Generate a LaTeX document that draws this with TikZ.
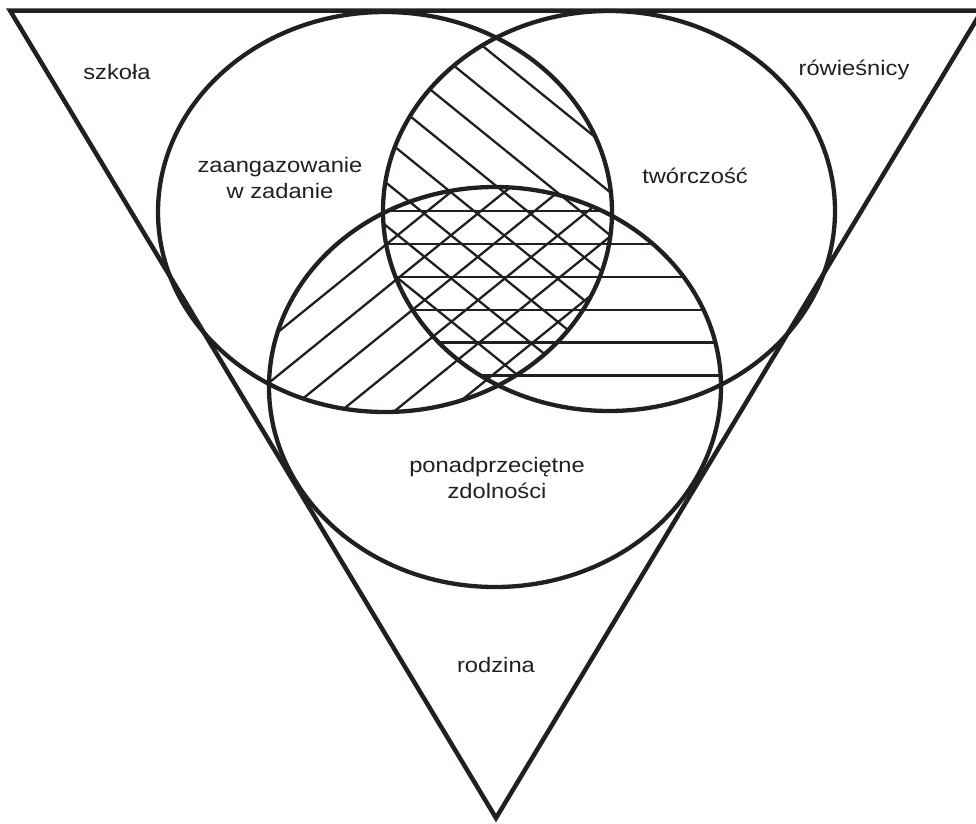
\documentclass[tikz,border=0pt]{standalone}
\usepackage{fontspec}
\setmainfont{Liberation Sans}[FakeStretch=1.13]
\definecolor{ink}{HTML}{231F20}
\begin{document}
\begin{tikzpicture}[x=1pt,y=-1pt,
  outline/.style={draw=ink,line width=4.3pt},
  hatch/.style={draw=ink,line width=2.3pt},
  lbl/.style={text=ink,font=\fontsize{21}{25.5}\selectfont,align=center,inner sep=0pt}]
\useasboundingbox (0,0) rectangle (976,823);
% hatching: left & right (\ lines)
\begin{scope}
  \clip (385,212) ellipse [x radius=227pt, y radius=200pt];
  \clip (609,211) ellipse [x radius=226pt, y radius=200pt];
  \foreach \k in {-1,...,9}{
    \pgfmathsetmacro{\c}{-268+33.4*\k}
    \draw[hatch] ({\c*(-0.6293)-1400*0.7771},{\c*0.7771-1400*0.6293}) -- ({\c*(-0.6293)+1400*0.7771},{\c*0.7771+1400*0.6293});
  }
\end{scope}
% hatching: left & bottom (/ lines)
\begin{scope}
  \clip (385,212) ellipse [x radius=227pt, y radius=200pt];
  \clip (495,387) ellipse [x radius=226pt, y radius=200pt];
  \foreach \k in {-1,...,6}{
    \pgfmathsetmacro{\c}{433+33.7*\k}
    \draw[hatch] ({\c*0.6293-1400*0.7771},{\c*0.7771+1400*0.6293}) -- ({\c*0.6293+1400*0.7771},{\c*0.7771-1400*0.6293});
  }
\end{scope}
% hatching: right & bottom (horizontal lines)
\begin{scope}
  \clip (609,211) ellipse [x radius=226pt, y radius=200pt];
  \clip (495,387) ellipse [x radius=226pt, y radius=200pt];
  \foreach \k in {0,...,5}{
    \pgfmathsetmacro{\yy}{211+32.9*\k}
    \draw[hatch] (300,\yy) -- (800,\yy);
  }
\end{scope}
% circles
\draw[outline] (385,212) ellipse [x radius=227pt, y radius=200pt];
\draw[outline] (609,211) ellipse [x radius=226pt, y radius=200pt];
\draw[outline] (495,387) ellipse [x radius=226pt, y radius=200pt];
% triangle
\coordinate (tl) at (10,10.5);
\coordinate (tr) at (982,10.5);
\coordinate (ap) at (496,818);
\draw[ink,line width=4.5pt,line join=miter] (tl) -- (tr) -- (ap) -- cycle;
% labels
\node[lbl] (szkola) at (117,72) {szkoła};
\node[lbl] (rowiesnicy) at (854,70) {rówieśnicy};
\node[lbl] (zaang) at (280,178) {zaangazowanie\\w zadanie};
\node[lbl] (tworczosc) at (695,176) {twórczość};
\node[lbl] (zdolnosci) at (497,478) {ponadprzeciętne\\zdolności};
\node[lbl] (rodzina) at (496,665) {rodzina};
\end{tikzpicture}
\end{document}
